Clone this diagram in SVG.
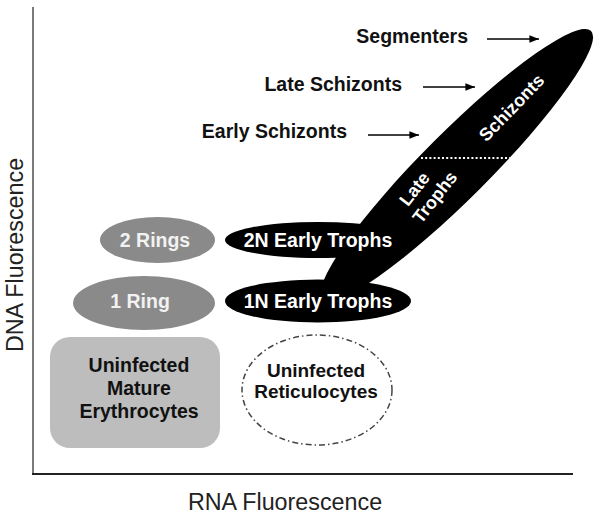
<svg xmlns="http://www.w3.org/2000/svg" width="602" height="518" viewBox="0 0 602 518">
<defs>
<style>
.lbl{font-family:"Liberation Sans",Arial,sans-serif;font-weight:bold;font-size:19.5px;text-anchor:middle}
.wt{fill:#ffffff}
.gt{fill:#f2f2f2}
.dk{fill:#111111}
.ax{font-family:"Liberation Sans",Arial,sans-serif;font-size:23.3px;fill:#222;text-anchor:middle}
.arrow{stroke:#000;stroke-width:1.6;fill:none;marker-end:url(#ah)}
</style>
<marker id="ah" viewBox="0 0 10 8" refX="10" refY="4" markerWidth="6" markerHeight="4.8" markerUnits="strokeWidth" orient="auto">
<path d="M0,0 L10,4 L0,8 Z" fill="#000"/>
</marker>
</defs>
<rect width="602" height="518" fill="#fff"/>

<g id="axes">
<line x1="33" y1="7" x2="33" y2="475" stroke="#7a7a7a" stroke-width="2"/>
<line x1="32" y1="474" x2="573" y2="474" stroke="#222" stroke-width="2"/>
<text class="ax" x="285" y="510">RNA Fluorescence</text>
<text class="ax" transform="translate(23,255) rotate(-90)">DNA Fluorescence</text>
</g>

<g id="band">
<ellipse cx="456.7" cy="165.3" rx="190" ry="33" transform="rotate(-45 456.7 165.3)" fill="#000"/>
<line x1="421" y1="158" x2="510" y2="158" stroke="#fff" stroke-width="2" stroke-dasharray="2,2.2"/>
<g transform="translate(425,192) rotate(-52)">
<text class="lbl wt" style="font-size:18px" x="-4" y="-4">Late</text>
<text class="lbl wt" style="font-size:18px" x="2" y="17">Trophs</text>
</g>
<text class="lbl wt" style="font-size:18px" transform="translate(516,112) rotate(-46)" x="0" y="0">Schizonts</text>
</g>

<g id="two-n-early-trophs">
<ellipse cx="318" cy="240" rx="93" ry="18" fill="#000"/>
<text class="lbl wt" x="318" y="247">2N Early Trophs</text>
</g>

<g id="one-n-early-trophs">
<ellipse cx="318" cy="301" rx="93" ry="21.5" fill="#000"/>
<text class="lbl wt" x="318" y="308">1N Early Trophs</text>
</g>

<g id="two-rings">
<ellipse cx="157.5" cy="240" rx="57.5" ry="23" fill="#8a8a8a"/>
<text class="lbl gt" x="155" y="247">2 Rings</text>
</g>

<g id="one-ring">
<ellipse cx="144" cy="303" rx="71" ry="27" fill="#8a8a8a"/>
<text class="lbl gt" x="140" y="308">1 Ring</text>
</g>

<g id="uninfected-mature">
<rect x="50" y="337" width="170" height="111" rx="20" ry="20" fill="#bdbdbd"/>
<text class="lbl dk" x="139" y="372">Uninfected</text>
<text class="lbl dk" x="139" y="395">Mature</text>
<text class="lbl dk" x="139" y="418">Erythrocytes</text>
</g>

<g id="uninfected-reticulocytes">
<ellipse cx="317" cy="390" rx="75" ry="55" fill="none" stroke="#444" stroke-width="1.5" stroke-dasharray="6,3,1.5,3"/>
<text class="lbl dk" style="font-size:19px" x="316" y="377">Uninfected</text>
<text class="lbl dk" style="font-size:19px" x="316" y="398">Reticulocytes</text>
</g>

<g id="segmenters">
<text class="lbl dk" style="text-anchor:end" x="468" y="43">Segmenters</text>
</g>
<g id="late-schizonts">
<text class="lbl dk" style="text-anchor:end" x="402" y="91">Late Schizonts</text>
</g>
<g id="early-schizonts">
<text class="lbl dk" style="text-anchor:end" x="347" y="138">Early Schizonts</text>
</g>

<g id="connectors">
<line class="arrow" x1="487" y1="39" x2="539" y2="39"/>
<line class="arrow" x1="423" y1="87" x2="475" y2="87"/>
<line class="arrow" x1="368" y1="135" x2="419" y2="135"/>
</g>
</svg>
